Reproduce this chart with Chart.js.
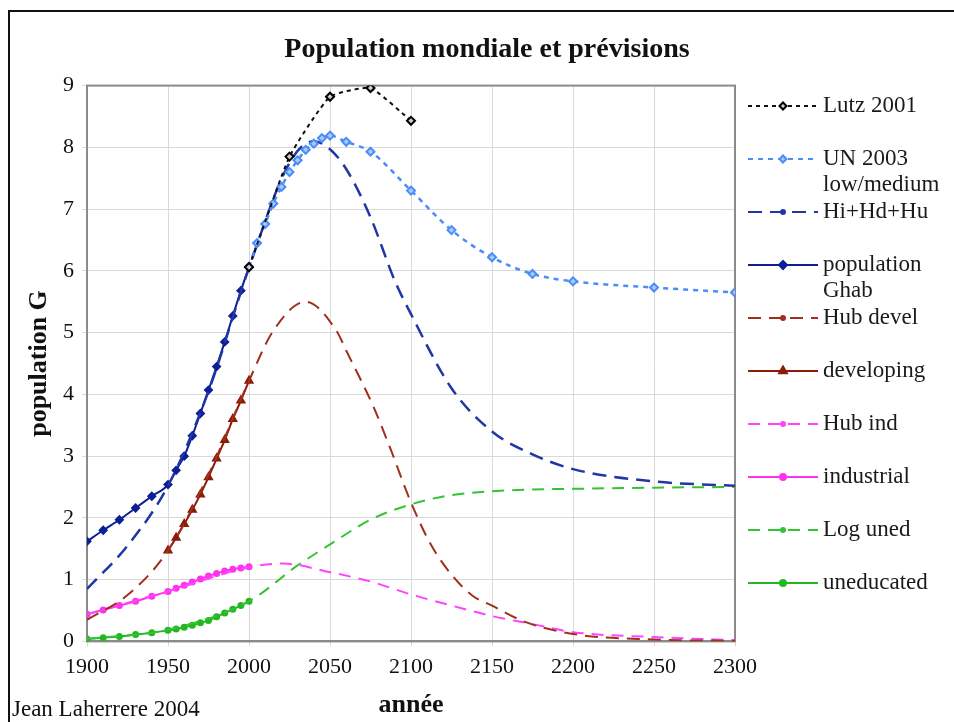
<!DOCTYPE html>
<html>
<head>
<meta charset="utf-8">
<script src="https://cdn.jsdelivr.net/npm/chart.js@4.4.1/dist/chart.umd.min.js"></script>
<style>
  html, body { margin: 0; padding: 0; background: #fff; }
  canvas { display: block; }
</style>
</head>
<body>
<canvas id="chart" width="954" height="722"></canvas>
<script>
// tick labels
const yearTicks = [1900, 1950, 2000, 2050, 2100, 2150, 2200, 2250, 2300];
const popTicks = [0, 1, 2, 3, 4, 5, 6, 7, 8, 9];

// series (years, population in billions)
const lutzYears = [2000, 2025, 2050, 2075, 2100];
const lutzPop = [6.06, 7.85, 8.82, 8.96, 8.43];

const unYears = [2000, 2005, 2010, 2015, 2020, 2025, 2030, 2035, 2040, 2045, 2050, 2060, 2075, 2100, 2125, 2150, 2175, 2200, 2250, 2300];
const unPop = [6.07, 6.45, 6.76, 7.09, 7.36, 7.6, 7.79, 7.96, 8.06, 8.15, 8.19, 8.09, 7.93, 7.3, 6.66, 6.22, 5.95, 5.83, 5.73, 5.65];

const hubTotalYears = [1900, 1925, 1950, 1975, 2000, 2025, 2040, 2050, 2060, 2075, 2090, 2100, 2125, 2150, 2175, 2200, 2250, 2300];
const hubTotalPop = [0.85, 1.55, 2.52, 4.05, 6.05, 7.75, 8.1, 7.97, 7.65, 6.87, 5.84, 5.3, 4.1, 3.4, 3.03, 2.79, 2.59, 2.52];

const ghabYears = [1900, 1910, 1920, 1930, 1940, 1950, 1955, 1960, 1965, 1970, 1975, 1980, 1985, 1990, 1995, 2000];
const ghabPop = [1.62, 1.8, 1.97, 2.16, 2.35, 2.54, 2.77, 3.0, 3.33, 3.69, 4.07, 4.45, 4.85, 5.27, 5.68, 6.06];

const hubDevelYears = [1900, 1925, 1950, 1975, 2000, 2015, 2035, 2054, 2060, 2077, 2087, 2100, 2112, 2125, 2138, 2150, 2170, 2200, 2250, 2300];
const hubDevelPop = [0.35, 0.75, 1.47, 2.7, 4.22, 5.03, 5.5, 5.03, 4.71, 3.79, 3.14, 2.25, 1.58, 1.08, 0.74, 0.58, 0.32, 0.12, 0.03, 0.01];

const devYears = [1950, 1955, 1960, 1965, 1970, 1975, 1980, 1985, 1990, 1995, 2000];
const devPop = [1.47, 1.68, 1.9, 2.13, 2.38, 2.66, 2.96, 3.26, 3.6, 3.9, 4.22];

const hubIndYears = [1900, 1950, 2000, 2021, 2050, 2075, 2100, 2125, 2150, 2175, 2200, 2250, 2300];
const hubIndPop = [0.44, 0.81, 1.2, 1.26, 1.12, 0.97, 0.76, 0.58, 0.41, 0.28, 0.15, 0.07, 0.02];

const indYears = [1900, 1910, 1920, 1930, 1940, 1950, 1955, 1960, 1965, 1970, 1975, 1980, 1985, 1990, 1995, 2000];
const indPop = [0.44, 0.51, 0.58, 0.65, 0.73, 0.81, 0.86, 0.91, 0.96, 1.01, 1.06, 1.1, 1.14, 1.17, 1.19, 1.21];

const logUnedYears = [1900, 1950, 2000, 2030, 2050, 2075, 2100, 2125, 2150, 2175, 2200, 2250, 2300];
const logUnedPop = [0.04, 0.19, 0.65, 1.23, 1.57, 1.97, 2.22, 2.37, 2.43, 2.46, 2.47, 2.49, 2.5];

const unedYears = [1900, 1910, 1920, 1930, 1940, 1950, 1955, 1960, 1965, 1970, 1975, 1980, 1985, 1990, 1995, 2000];
const unedPop = [0.04, 0.06, 0.08, 0.11, 0.14, 0.18, 0.2, 0.23, 0.26, 0.3, 0.34, 0.4, 0.46, 0.52, 0.58, 0.65];

const seriesLabels = ["Lutz 2001", "UN 2003\nlow/medium", "Hi+Hd+Hu", "population\nGhab", "Hub devel",
  "developing", "Hub ind", "industrial", "Log uned", "uneducated"];

const pts = (xs, ys) => xs.map((x, i) => ({ x, y: ys[i] }));

const serif = '"Liberation Serif", "Times New Roman", serif';
Chart.defaults.font.family = serif;
Chart.defaults.color = "#111";

function line(label, xs, ys, color, opts) {
  return Object.assign({
    label,
    data: pts(xs, ys),
    borderColor: color,
    backgroundColor: color,
    borderWidth: 2,
    pointRadius: 0,
    fill: false,
    cubicInterpolationMode: "monotone",
    legendRadius: 2,
  }, opts);
}

const datasets = [
  line(seriesLabels[0], lutzYears, lutzPop, "#111", {
    cubicInterpolationMode: "default", tension: 0.15,
    borderDash: [4, 4], pointStyle: "rectRot", pointRadius: 4,
    pointBackgroundColor: "#ccc", pointBorderColor: "#000", pointBorderWidth: 2, legendRadius: 3.5 }),
  line(seriesLabels[1], unYears, unPop, "#4a8df8", {
    borderDash: [5, 5], borderWidth: 2.5, pointStyle: "rectRot", pointRadius: 4,
    pointBackgroundColor: "#a9c9ff", pointBorderColor: "#4a8df8", pointBorderWidth: 2, legendRadius: 3.5 }),
  line(seriesLabels[2], hubTotalYears, hubTotalPop, "#2236a6", { borderDash: [14, 8], borderWidth: 2.5 }),
  line(seriesLabels[3], ghabYears, ghabPop, "#0c1f96", {
    pointStyle: "rectRot", pointRadius: 3.5, pointBackgroundColor: "#0c1f96", legendRadius: 4 }),
  line(seriesLabels[4], hubDevelYears, hubDevelPop, "#a0301e", { borderDash: [13, 8] }),
  line(seriesLabels[5], devYears, devPop, "#8e1a08", {
    pointStyle: "triangle", pointRadius: 4, pointBackgroundColor: "#8e1a08", legendRadius: 4.5 }),
  line(seriesLabels[6], hubIndYears, hubIndPop, "#ff44ff", { borderDash: [12, 8] }),
  line(seriesLabels[7], indYears, indPop, "#ff33ee", {
    pointStyle: "circle", pointRadius: 2.5, pointBackgroundColor: "#ff33ee", legendRadius: 3 }),
  line(seriesLabels[8], logUnedYears, logUnedPop, "#33c333", { borderDash: [12, 8] }),
  line(seriesLabels[9], unedYears, unedPop, "#22b822", {
    pointStyle: "circle", pointRadius: 2.5, pointBackgroundColor: "#22b822", legendRadius: 3 }),
];

const framePlugin = {
  id: "frame",
  beforeDraw(chart) {
    const { ctx } = chart;
    ctx.save();
    ctx.fillStyle = "#fff";
    ctx.fillRect(0, 0, chart.width, chart.height);
    ctx.strokeStyle = "#111";
    ctx.lineWidth = 2;
    ctx.strokeRect(9, 11, chart.width + 20, chart.height + 20);
    ctx.restore();
  },
  beforeDatasetsDraw(chart) {
    const { ctx, chartArea: a } = chart;
    ctx.save();
    ctx.strokeStyle = "#8a8a8a";
    ctx.lineWidth = 2;
    ctx.strokeRect(a.left, a.top, a.right - a.left, a.bottom - a.top);
    ctx.restore();
  },
  afterDraw(chart) {
    const { ctx } = chart;
    ctx.save();
    ctx.font = "23px " + serif;
    ctx.fillStyle = "#111";
    ctx.textBaseline = "middle";
    ctx.fillText("Jean Laherrere 2004", 12, 710);
    ctx.restore();
  },
};

// legend on the right, one slot per dataset
const sideLegend = {
  id: "sideLegend",
  afterDraw(chart) {
    const { ctx, chartArea: a } = chart;
    const x0 = a.right + 13, x1 = x0 + 70, tx = x1 + 5;
    ctx.save();
    chart.data.datasets.forEach((ds, i) => {
      const y = 106 + i * 53;
      ctx.strokeStyle = ds.borderColor;
      ctx.lineWidth = Math.min(ds.borderWidth, 2);
      ctx.setLineDash(ds.borderDash || []);
      ctx.beginPath();
      ctx.moveTo(x0, y);
      ctx.lineTo(x1, y);
      ctx.stroke();
      ctx.setLineDash([]);
      ctx.fillStyle = ds.pointBackgroundColor || ds.borderColor;
      ctx.strokeStyle = ds.pointBorderColor || ds.borderColor;
      Chart.helpers.drawPoint(ctx, {
        pointStyle: ds.pointStyle || "circle",
        radius: ds.legendRadius,
        borderWidth: ds.pointBorderWidth || 1,
        rotation: 0,
      }, (x0 + x1) / 2, y);
      ctx.fillStyle = "#1a1a1a";
      ctx.font = "23px " + serif;
      ctx.textBaseline = "middle";
      ds.label.split("\n").forEach((t, k) => ctx.fillText(t, tx, y + k * 26));
    });
    ctx.restore();
  },
};

new Chart(document.getElementById("chart"), {
  type: "line",
  data: { datasets },
  plugins: [framePlugin, sideLegend],
  options: {
    responsive: false,
    animation: false,
    events: [],
    layout: { padding: { top: 12, left: 20, right: 0, bottom: 0 } },
    plugins: {
      legend: { display: false },
      tooltip: { enabled: false },
      title: {
        display: true,
        text: "Population mondiale et prévisions",
        color: "#111",
        font: { size: 28, weight: "bold" },
        padding: { top: 21, bottom: 19 },
      },
    },
    scales: {
      x: {
        type: "linear",
        min: 1900,
        max: 2300,
        afterBuildTicks: (s) => { s.ticks = yearTicks.map((v) => ({ value: v })); },
        ticks: { font: { size: 22 }, color: "#111", padding: 8, maxRotation: 0, callback: (v) => String(v) },
        grid: { color: "#d9d9d9", lineWidth: 1, tickLength: 5 },
        border: { color: "#8a8a8a", width: 2 },
        title: { display: true, text: "année", font: { size: 26, weight: "bold" }, color: "#111", padding: { top: 1, bottom: 1 } },
      },
      y: {
        min: 0,
        max: 9,
        afterBuildTicks: (s) => { s.ticks = popTicks.map((v) => ({ value: v })); },
        afterFit: (s) => { s.width = 67; },
        ticks: { font: { size: 22 }, color: "#111", padding: 8 },
        grid: { color: "#d9d9d9", lineWidth: 1, tickLength: 5 },
        border: { color: "#8a8a8a", width: 2 },
        title: { display: true, text: "population G", font: { size: 26, weight: "bold" }, color: "#111", padding: { top: 4, bottom: 0 } },
      },
      legendSpace: {
        type: "linear",
        position: "right",
        display: true,
        afterFit: (s) => { s.width = 219; },
        ticks: { display: false },
        grid: { display: false, drawTicks: false },
        border: { display: false },
      },
    },
  },
});
</script>
</body>
</html>
